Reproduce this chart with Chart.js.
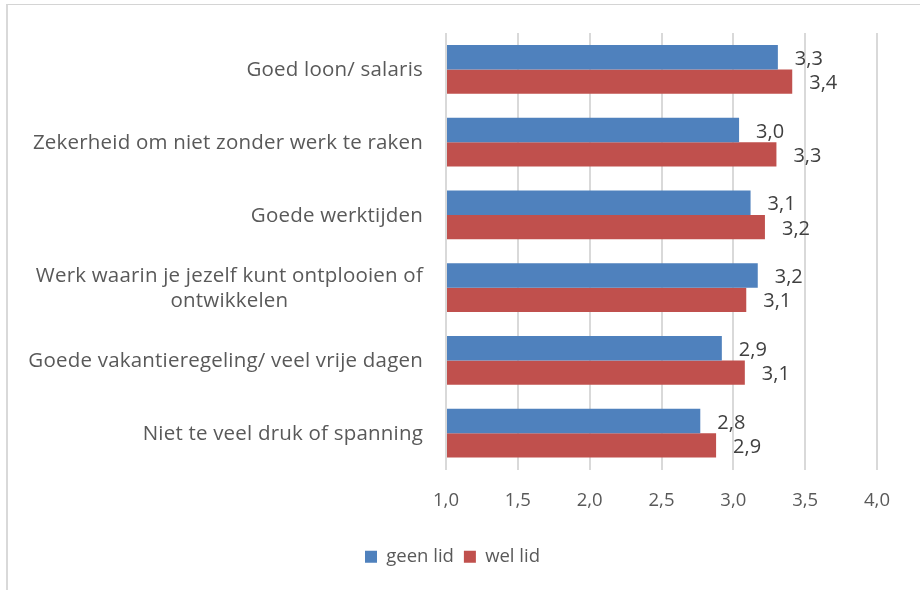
<!DOCTYPE html>
<html>
<head>
<meta charset="utf-8">
<script src="https://cdn.jsdelivr.net/npm/chart.js@4/dist/chart.umd.min.js"></script>
<style>
  html, body { margin: 0; padding: 0; background: #fff; }
  #wrap { position: relative; width: 920px; height: 590px; overflow: hidden; }
  #frame { position: absolute; left: 6px; top: 4px; width: 1000px; height: 1000px;
           border-left: 2px solid #d9d9d9; border-top: 1px solid #d4d4d4; }
  canvas { position: absolute; left: 0; top: 0; }
</style>
</head>
<body>
<div id="wrap">
  <div id="frame"></div>
  <canvas id="chart" width="920" height="590"></canvas>
</div>
<script>
const categories = [
    'Goed loon/ salaris',
    'Zekerheid om niet zonder werk te raken',
    'Goede werktijden',
    ['Werk waarin je jezelf kunt ontplooien of', 'ontwikkelen'],
    'Goede vakantieregeling/ veel vrije dagen',
    'Niet te veel druk of spanning'
];
const geenLid = [3.31, 3.04, 3.12, 3.17, 2.92, 2.77];
const welLid = [3.41, 3.30, 3.22, 3.09, 3.08, 2.88];
const seriesNames = ['geen lid', 'wel lid'];
const axisMin = 1;
const axisMax = 4;
const axisStep = 0.5;

const FONT = "'Open Sans', sans-serif";
const fmt = v => v.toFixed(1).replace('.', ',');

// category labels: Excel style, lines centered on the widest line, block right aligned
const categoryLabels = {
    id: 'categoryLabels',
    afterDraw(chart) {
        const ctx = chart.ctx;
        const y = chart.scales.y;
        const right = chart.chartArea.left - 23;
        const lineH = 25;
        ctx.save();
        ctx.font = '20.5px ' + FONT;
        ctx.letterSpacing = '0.2px';
        ctx.fillStyle = '#595959';
        ctx.textAlign = 'center';
        ctx.textBaseline = 'middle';
        categories.forEach((label, i) => {
            const lines = Array.isArray(label) ? label : [label];
            const widest = Math.max(...lines.map(l => ctx.measureText(l).width));
            const cx = right - widest / 2;
            const cy = y.getPixelForTick(i) + 1;
            lines.forEach((l, j) => {
                ctx.fillText(l, cx, cy + (j - (lines.length - 1) / 2) * lineH);
            });
        });
        ctx.restore();
    }
};

// value labels to the right of every bar
const valueLabels = {
    id: 'valueLabels',
    afterDatasetsDraw(chart) {
        const ctx = chart.ctx;
        ctx.save();
        ctx.font = '20px ' + FONT;
        ctx.fillStyle = '#404040';
        ctx.textAlign = 'left';
        ctx.textBaseline = 'middle';
        chart.data.datasets.forEach((ds, di) => {
            chart.getDatasetMeta(di).data.forEach((bar, i) => {
                ctx.fillText(fmt(ds.data[i]), bar.x + 17, bar.y + 2);
            });
        });
        ctx.restore();
    }
};

new Chart(document.getElementById('chart'), {
    type: 'bar',
    data: {
        labels: categories,
        datasets: [
            {
                label: seriesNames[0],
                data: geenLid,
                base: axisMin,
                backgroundColor: '#4F81BD'
            },
            {
                label: seriesNames[1],
                data: welLid,
                base: axisMin,
                backgroundColor: '#C0504D'
            }
        ]
    },
    options: {
        indexAxis: 'y',
        responsive: false,
        animation: false,
        layout: {
            padding: { left: 28, top: 33, right: 43, bottom: 14 }
        },
        datasets: {
            bar: { categoryPercentage: 0.667, barPercentage: 1.0 }
        },
        plugins: {
            tooltip: { enabled: false },
            legend: {
                position: 'bottom',
                labels: {
                    boxWidth: 12,
                    boxHeight: 12,
                    padding: 10,
                    color: '#595959',
                    font: { family: FONT, size: 18.5 }
                }
            }
        },
        scales: {
            x: {
                min: axisMin,
                max: axisMax,
                grid: { color: '#d9d9d9', lineWidth: 2, drawTicks: false },
                border: { display: false },
                ticks: {
                    stepSize: axisStep,
                    padding: 20,
                    color: '#595959',
                    font: { family: FONT, size: 18.5 },
                    callback: value => fmt(value)
                },
                afterFit: scale => { scale.height = 68; }
            },
            y: {
                grid: { display: false },
                border: { display: false },
                ticks: { display: false },
                afterFit: scale => { scale.width = 418; }
            }
        }
    },
    plugins: [categoryLabels, valueLabels]
});
</script>
</body>
</html>
